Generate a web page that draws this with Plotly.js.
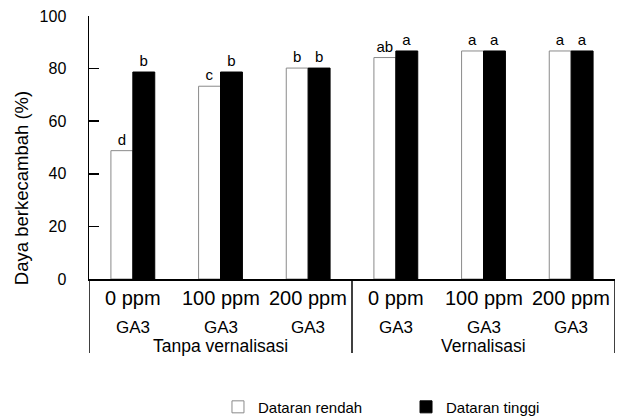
<!DOCTYPE html>
<html>
<head>
<meta charset="utf-8">
<script src="https://cdn.plot.ly/plotly-3.0.1.min.js"></script>
<style>html,body{margin:0;padding:0;background:#fff;}#chart{width:618px;height:416px;}</style>
</head>
<body>
<div id="chart"></div>
<script>
// Data
const groups = ["Tanpa vernalisasi", "Tanpa vernalisasi", "Tanpa vernalisasi", "Vernalisasi", "Vernalisasi", "Vernalisasi"];
const doses = ["0 ppm", "100 ppm", "200 ppm", "0 ppm", "100 ppm", "200 ppm"];
const doseUnit = "GA3";
const rendah = [48.8, 73.3, 80.2, 84.2, 86.7, 86.7];
const tinggi = [78.7, 78.7, 80.2, 86.7, 86.7, 86.7];
const lettersRendah = ["d", "c", "b", "ab", "a", "a"];
const lettersTinggi = ["b", "b", "b", "a", "a", "a"];
const yTicks = [0, 20, 40, 60, 80, 100];
const seriesNames = ["Dataran rendah", "Dataran tinggi"];
const yTitle = "Daya berkecambah (%)";

const FONT = "Liberation Sans, Arial, sans-serif";
const categories = groups.map((g, i) => g + " | " + doses[i]);

const traces = [
  {
    type: "bar", name: seriesNames[0], x: categories, y: rendah, legend: "legend",
    marker: {color: "#ffffff", line: {color: "#8a8a8a", width: 1}},
    text: lettersRendah, textposition: "outside", cliponaxis: false, constraintext: "none",
    textfont: {family: FONT, size: 15, color: "#000"}
  },
  {
    type: "bar", name: seriesNames[1], x: categories, y: tinggi, legend: "legend2",
    marker: {color: "#000000", line: {color: "#000000", width: 1}},
    text: lettersTinggi, textposition: "outside", cliponaxis: false, constraintext: "none",
    textfont: {family: FONT, size: 15, color: "#000"}
  }
];

// axis labels (two lines per category + group labels) and group dividers
const annotations = [];
const shapes = [];
const pxToPaperY = px => (279 - px) / 263;
doses.forEach((d, i) => {
  annotations.push({text: d, xref: "x", yref: "paper", x: i, y: pxToPaperY(298),
    xanchor: "center", yanchor: "middle", showarrow: false, font: {size: 20, color: "#000"}});
  annotations.push({text: doseUnit, xref: "x", yref: "paper", x: i, y: pxToPaperY(327),
    xanchor: "center", yanchor: "middle", showarrow: false, font: {size: 17, color: "#000"}});
});
const uniqueGroups = [...new Set(groups)];
const boundaries = [-0.5];
uniqueGroups.forEach(g => {
  const idx = groups.map((v, i) => v === g ? i : -1).filter(i => i >= 0);
  const mid = (idx[0] + idx[idx.length - 1]) / 2;
  annotations.push({text: g, xref: "x", yref: "paper", x: mid, y: pxToPaperY(346),
    xanchor: "center", yanchor: "middle", showarrow: false, font: {size: 17.5, color: "#000"}});
  boundaries.push(idx[idx.length - 1] + 0.5);
});
boundaries.forEach(b => {
  shapes.push({type: "line", xref: "x", yref: "paper", x0: b, x1: b, y0: 0, y1: pxToPaperY(353),
    line: {color: "#000", width: 1.5}});
});
annotations.push({
  text: yTitle, xref: "paper", yref: "paper", x: -0.129, y: 0.346,
  xanchor: "center", yanchor: "middle", textangle: -90, showarrow: false,
  font: {size: 18.5, color: "#000"}
});

const layout = {
  width: 618, height: 416,
  margin: {l: 89, r: 3, t: 16, b: 137, autoexpand: false},
  paper_bgcolor: "#fff", plot_bgcolor: "#fff",
  font: {family: FONT, color: "#000"},
  barmode: "group", bargap: 0.5, bargroupgap: 0,
  showlegend: true,
  legend: {orientation: "v", x: 0.2452, xanchor: "left", y: -0.487, yanchor: "middle",
           font: {size: 15}, bgcolor: "rgba(0,0,0,0)"},
  legend2: {orientation: "v", x: 0.6027, xanchor: "left", y: -0.487, yanchor: "middle",
           font: {size: 15}, bgcolor: "rgba(0,0,0,0)"},
  xaxis: {
    type: "category", range: [-0.5, categories.length - 0.5],
    showline: true, linecolor: "#000", linewidth: 1.5,
    ticks: "", showgrid: false, zeroline: false, showticklabels: false
  },
  yaxis: {
    range: [0, 100], tickvals: yTicks, ticks: "inside", ticklen: 10, tickwidth: 1.5,
    tickcolor: "#000", showline: true, linecolor: "#000", linewidth: 1.5,
    showgrid: false, zeroline: false, ticklabelstandoff: 18,
    tickfont: {size: 16, color: "#000"}
  },
  annotations: annotations,
  shapes: shapes
};

Plotly.newPlot("chart", traces, layout, {displayModeBar: false, staticPlot: true});
</script>
</body>
</html>
